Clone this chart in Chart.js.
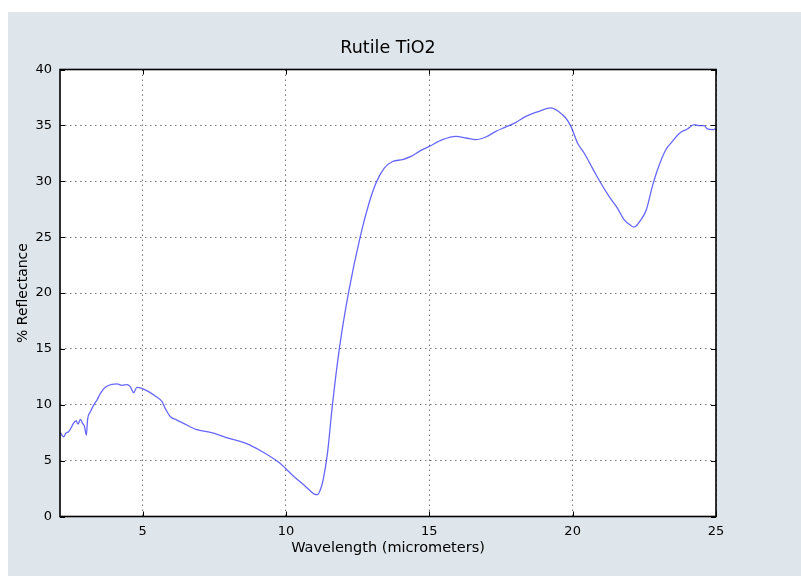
<!DOCTYPE html>
<html>
<head>
<meta charset="utf-8">
<script src="https://cdn.jsdelivr.net/npm/chart.js@4"></script>
<style>
html, body { margin: 0; padding: 0; background: #fff; }
#wrap { position: absolute; left: 8px; top: 12px; width: 793px; height: 564px; background: #dfe6eb; }
</style>
</head>
<body>
<div id="wrap"><canvas id="chart" width="793" height="564"></canvas></div>
<script>
// Spectrum data
const wavelength = [
    2.12, 2.18, 2.25, 2.32, 2.42, 2.50, 2.59, 2.68, 2.75, 2.83, 2.91, 2.97, 3.04, 3.08,
    3.18, 3.33, 3.41, 3.53, 3.70, 3.93, 4.11, 4.28, 4.46, 4.57, 4.69, 4.80, 4.98,
    5.21, 5.44, 5.68, 5.79, 5.97, 6.20, 6.43, 6.86, 7.44, 8.02, 8.61, 9.18, 9.77,
    10.23, 10.70, 10.99, 11.10, 11.20, 11.30, 11.45, 11.62, 11.86, 12.18, 12.59,
    12.90, 13.16, 13.43, 13.72, 14.07, 14.36, 14.65, 15.00, 15.46, 15.93, 16.28,
    16.62, 16.97, 17.32, 17.67, 18.02, 18.37, 18.83, 19.24, 19.53, 19.76, 19.94,
    20.17, 20.40, 20.69, 20.98, 21.27, 21.56, 21.80, 22.00, 22.14, 22.38, 22.57,
    22.78, 22.96, 23.25, 23.48, 23.71, 24.00, 24.24, 24.41, 24.59, 24.70, 24.87, 25.00
];
const reflectance = [
    7.58, 7.30, 7.13, 7.45, 7.58, 7.90, 8.33, 8.57, 8.27, 8.69, 8.33, 8.10, 7.28, 8.63,
    9.37, 10.12, 10.42, 11.02, 11.56, 11.83, 11.86, 11.74, 11.80, 11.62, 11.08, 11.56, 11.47,
    11.17, 10.78, 10.27, 9.68, 8.92, 8.63, 8.33, 7.80, 7.49, 6.99, 6.54, 5.79, 4.80,
    3.70, 2.65, 2.00, 1.95, 2.40, 3.30, 5.70, 9.95, 14.96, 19.98, 25.03,
    28.05, 29.96, 31.18, 31.77, 31.93, 32.22, 32.67, 33.12, 33.72, 34.02, 33.87,
    33.72, 33.96, 34.46, 34.86, 35.27, 35.81, 36.26, 36.56, 36.20, 35.66, 34.91,
    33.42, 32.53, 31.18, 29.84, 28.64, 27.60, 26.55, 26.10, 25.90, 26.55, 27.45,
    29.54, 31.03, 32.82, 33.57, 34.26, 34.68, 35.06, 34.97, 34.97, 34.68, 34.62, 34.70
];
const xTicks = [5, 10, 15, 20, 25];
const yTicks = [0, 5, 10, 15, 20, 25, 30, 35, 40];

const points = wavelength.map((w, i) => ({ x: w, y: reflectance[i] }));

// white plot area, black frame and inward ticks like matplotlib
const frame = {
    id: 'frame',
    afterLayout(chart) {
        // center the title over the plot area, not the whole canvas
        const t = chart.titleBlock;
        t.left = chart.chartArea.left;
        t.right = chart.chartArea.right;
        t.width = t.right - t.left;
    },
    beforeDraw(chart) {
        const { ctx, chartArea: a } = chart;
        ctx.save();
        ctx.fillStyle = '#fff';
        ctx.fillRect(a.left, a.top, a.right - a.left, a.bottom - a.top);
        ctx.restore();
    },
    afterDatasetsDraw(chart) {
        const { ctx, chartArea: a, scales: { x, y } } = chart;
        ctx.save();
        ctx.strokeStyle = '#000';
        ctx.lineWidth = 1;
        ctx.beginPath();
        xTicks.forEach(v => {
            const px = Math.round(x.getPixelForValue(v)) + 0.5;
            ctx.moveTo(px, a.bottom); ctx.lineTo(px, a.bottom - 5);
            ctx.moveTo(px, a.top); ctx.lineTo(px, a.top + 5);
        });
        yTicks.forEach(v => {
            const py = Math.round(y.getPixelForValue(v)) + 0.5;
            ctx.moveTo(a.left, py); ctx.lineTo(a.left + 5, py);
            ctx.moveTo(a.right, py); ctx.lineTo(a.right - 5, py);
        });
        ctx.stroke();
        ctx.lineWidth = 1.6;
        ctx.strokeRect(a.left, a.top, a.right - a.left, a.bottom - a.top);
        ctx.restore();
    }
};

Chart.defaults.font.family = '"DejaVu Sans", sans-serif';
Chart.defaults.color = '#000';

new Chart(document.getElementById('chart'), {
    type: 'line',
    data: {
        datasets: [{
            label: 'Rutile TiO2',
            data: points,
            borderColor: 'rgba(0, 0, 255, 0.6)',
            borderWidth: 1.3,
            pointRadius: 0,
            fill: false,
            cubicInterpolationMode: 'monotone'
        }]
    },
    options: {
        responsive: false,
        animation: false,
        layout: { padding: { left: 6.5, right: 85, top: 0, bottom: 19.5 } },
        plugins: {
            legend: { display: false },
            tooltip: { enabled: false },
            title: {
                display: true,
                text: 'Rutile TiO2',
                font: { size: 17.5, weight: 'normal' },
                padding: { top: 26, bottom: 10.5 }
            }
        },
        scales: {
            x: {
                type: 'linear',
                min: 2.12,
                max: 25,
                afterBuildTicks: s => { s.ticks = xTicks.map(v => ({ value: v })); },
                afterFit: s => { s.height = 40; },
                grid: { color: '#777', drawTicks: false },
                border: { display: false, dash: [1.5, 3.5] },
                ticks: { padding: 7, font: { size: 13 } },
                title: { display: true, text: 'Wavelength (micrometers)', font: { size: 14.5 }, padding: 0 }
            },
            y: {
                min: 0,
                max: 40,
                afterBuildTicks: s => { s.ticks = yTicks.map(v => ({ value: v })); },
                afterFit: s => { s.width = 45.5; },
                grid: { color: '#777', drawTicks: false },
                border: { display: false, dash: [1.5, 3.5] },
                ticks: { padding: 8, font: { size: 13 } },
                title: { display: true, text: '% Reflectance', font: { size: 14 }, padding: 0 }
            }
        }
    },
    plugins: [frame]
});
</script>
</body>
</html>
